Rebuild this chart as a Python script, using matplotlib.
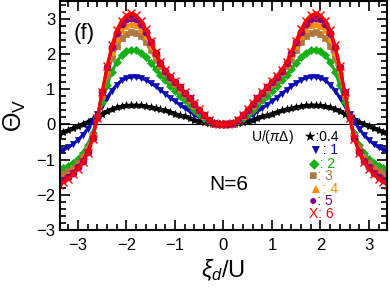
import numpy as np
import matplotlib
matplotlib.use("Agg")
import matplotlib.pyplot as plt
from matplotlib.ticker import MultipleLocator

plt.rcParams['font.family'] = ['Liberation Sans', 'DejaVu Sans']
plt.rcParams['mathtext.fontset'] = 'custom'
plt.rcParams['mathtext.rm'] = 'Liberation Sans'
plt.rcParams['mathtext.it'] = 'Liberation Sans:italic'

# ------------------------------------------------------------
# data (half curve, xi >= 0, curves are symmetric in xi)
# ------------------------------------------------------------
xi_half = np.round(np.arange(0.0, 3.45, 0.1), 1)

theta_04 = [0.00, 0.005, 0.02, 0.04, 0.07, 0.10, 0.14, 0.18, 0.23, 0.27, 0.31, 0.36,
            0.40, 0.44, 0.47, 0.50, 0.52, 0.54, 0.55, 0.55, 0.54, 0.52, 0.49, 0.44,
            0.38, 0.31, 0.23, 0.15, 0.08, 0.02, -0.04, -0.10, -0.16, -0.21, -0.26]
theta_1 = [0.00, 0.01, 0.03, 0.07, 0.13, 0.20, 0.28, 0.37, 0.46, 0.56, 0.66, 0.76,
           0.87, 0.98, 1.08, 1.18, 1.26, 1.32, 1.35, 1.35, 1.32, 1.25, 1.13, 0.96,
           0.76, 0.53, 0.30, 0.08, -0.12, -0.30, -0.44, -0.56, -0.65, -0.72, -0.78]
theta_2 = [0.00, 0.01, 0.04, 0.10, 0.19, 0.30, 0.42, 0.55, 0.68, 0.82, 0.96, 1.10,
           1.25, 1.41, 1.58, 1.75, 1.91, 2.03, 2.10, 2.12, 2.08, 1.97, 1.78, 1.50,
           1.12, 0.65, 0.17, -0.25, -0.57, -0.80, -0.97, -1.09, -1.18, -1.25, -1.30]
theta_3 = [0.00, 0.01, 0.04, 0.12, 0.23, 0.37, 0.52, 0.68, 0.84, 0.99, 1.14, 1.30,
           1.46, 1.65, 1.87, 2.10, 2.33, 2.50, 2.60, 2.62, 2.57, 2.44, 2.22, 1.88,
           1.40, 0.80, 0.18, -0.33, -0.68, -0.92, -1.10, -1.23, -1.33, -1.41, -1.47]
theta_4 = [0.00, 0.01, 0.05, 0.13, 0.25, 0.40, 0.56, 0.72, 0.88, 1.03, 1.18, 1.34,
           1.51, 1.71, 1.96, 2.24, 2.50, 2.70, 2.82, 2.85, 2.80, 2.67, 2.44, 2.07,
           1.54, 0.88, 0.20, -0.35, -0.72, -0.98, -1.17, -1.32, -1.43, -1.52, -1.58]
theta_5 = [0.00, 0.01, 0.05, 0.13, 0.26, 0.42, 0.58, 0.74, 0.90, 1.05, 1.20, 1.36,
           1.53, 1.74, 2.02, 2.33, 2.62, 2.85, 2.98, 3.02, 2.98, 2.85, 2.60, 2.20,
           1.62, 0.92, 0.20, -0.38, -0.77, -1.03, -1.22, -1.37, -1.49, -1.58, -1.65]
theta_6 = [0.00, 0.01, 0.05, 0.14, 0.28, 0.44, 0.60, 0.76, 0.92, 1.07, 1.22, 1.38,
           1.55, 1.76, 2.05, 2.38, 2.70, 2.95, 3.10, 3.15, 3.10, 2.95, 2.68, 2.25,
           1.65, 0.92, 0.18, -0.42, -0.82, -1.08, -1.27, -1.42, -1.54, -1.64, -1.72]

u_labels = [":0.4", ": 1", ": 2", ": 3", ": 4", ": 5", ": 6"]
series = [theta_04, theta_1, theta_2, theta_3, theta_4, theta_5, theta_6]
colors = ["black", "#0c0cb4", "#12b012", "#b07840", "#ff8c00", "#800080", "#ff0000"]
markers = ["*", "v", "D", "s", "^", "o", "x"]
msizes = [6, 5, 4, 4.5, 5, 5, 5.5]
glyphs = ["★", "▼", "◆", "■", "▲", "●", "X"]


def mirror(h):
    h = np.asarray(h, dtype=float)
    return np.concatenate([h[::-1], h[1:]])


xi = np.concatenate([-xi_half[::-1], xi_half[1:]])

fig = plt.figure(figsize=(3.9, 2.88), dpi=100)
ax = fig.add_axes([0.154, 0.201, 0.838, 0.795])

ax.axhline(0, color="black", lw=0.8, zorder=0)
for ys, c, m, ms in zip(series, colors, markers, msizes):
    ax.plot(xi, mirror(ys), ls="-", lw=2.2, marker=m, ms=ms, color=c,
            mew=1.0 if m == "x" else 0.5)

ax.set_xlim(-3.37, 3.37)
ax.set_ylim(-3, 3.5)
ax.xaxis.set_major_locator(MultipleLocator(1))
ax.xaxis.set_minor_locator(MultipleLocator(0.2))
ax.yaxis.set_major_locator(MultipleLocator(1))
ax.yaxis.set_minor_locator(MultipleLocator(0.2))
ax.tick_params(which="both", direction="in", top=True, right=True, width=1.2)
ax.tick_params(which="major", length=7, labelsize=12)
ax.tick_params(which="minor", length=4)
ax.tick_params(axis="x", pad=6)
for s in ax.spines.values():
    s.set_linewidth(1.5)

ax.set_ylabel(r"Θ$_\mathregular{V}$", fontsize=18, labelpad=6)
ax.set_xlabel(r"$\xi_d$/U", fontsize=17, labelpad=3)

ax.text(0.04, 0.86, "(f)", transform=ax.transAxes, fontsize=16, va="center")
ax.text(0.455, 0.20, "N=6", transform=ax.transAxes, fontsize=15, va="center")

# legend built as coloured text rows
ax.text(0.585, 0.405, r"U/($\pi\Delta$)", transform=ax.transAxes, fontsize=10,
        va="center")
for i, (g, lab, c) in enumerate(zip(glyphs, u_labels, colors)):
    x0 = 0.745 if i == 0 else 0.763
    ax.text(x0, 0.405 - 0.056 * i, g + lab, transform=ax.transAxes,
            fontsize=10, color=c, va="center")

fig.savefig("out.png", dpi=100)
